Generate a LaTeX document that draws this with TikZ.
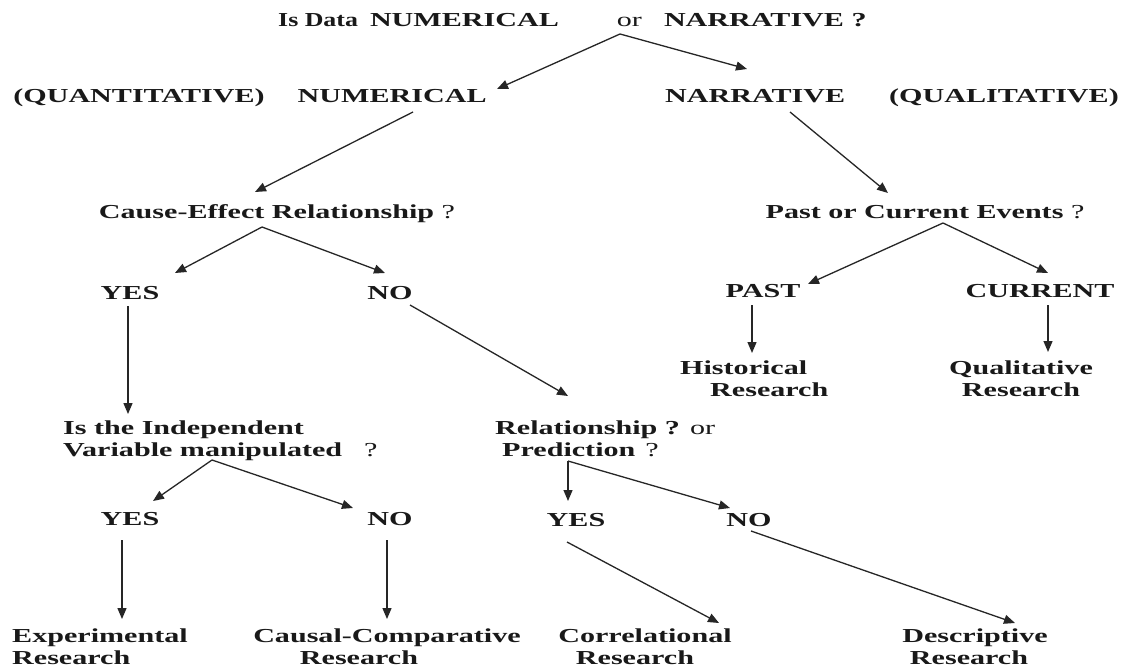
\documentclass[tikz,border=0pt]{standalone}
\usepackage{fontspec}
\setmainfont{Liberation Serif}[FakeStretch=1.52]
\usetikzlibrary{arrows.meta}
\begin{document}
\begin{tikzpicture}[x=1pt,y=-1pt,
  lbl/.style={font=\fontsize{19.8}{21.5}\selectfont\bfseries, text=black!90, inner sep=0pt, text height=13pt, text depth=0pt},
  ml/.style={font=\fontsize{19.8}{21.5}\selectfont\bfseries, text=black!90, inner sep=0pt},
  arr/.style={draw=black!85, line width=1.3pt, -{Triangle[length=11pt,width=9pt]}},
  ln/.style={draw=black!85, line width=1.3pt}]
\useasboundingbox[fill=white] (0,0) rectangle (1121,668);

% nodes
\node[lbl, anchor=west] (title) at (278,20) {\scalebox{0.86}[1]{Is Data}\hspace{12pt}NUMERICAL\hspace{58pt}{\mdseries or}\hspace{22pt}NARRATIVE ?};
\node[lbl] (quant) at (250,96) {(QUANTITATIVE)\hspace{33pt}NUMERICAL};
\node[lbl] (narr) at (892,96) {NARRATIVE\hspace{44pt}(QUALITATIVE)};
\node[lbl] (cause) at (277,212) {Cause-Effect Relationship {\mdseries ?}};
\node[lbl] (pce) at (925,212) {Past or Current Events {\mdseries ?}};
\node[lbl] (yes1) at (130,293) {YES};
\node[lbl] (no1) at (390,293) {NO};
\node[lbl] (past) at (763,291) {PAST};
\node[lbl] (curr) at (1040,291) {CURRENT};
\node[ml, anchor=north west, align=left] (hist) at (680,361) {Historical\\\hspace*{30pt}Research};
\node[ml, anchor=north, align=center] (qual) at (1021,361) {Qualitative\\Research};
\node[ml, anchor=north west, align=left] (indep) at (63,421) {Is the Independent\\Variable manipulated\hspace{22pt}{\mdseries ?}};
\node[ml, anchor=north west, align=left] (rel) at (495,421) {Relationship ? {\mdseries or}\\\hspace*{7pt}Prediction\hspace{10pt}{\mdseries ?}};
\node[lbl] (yes2) at (130,519) {YES};
\node[lbl] (no2) at (390,519) {NO};
\node[lbl] (yes3) at (576,520) {YES};
\node[lbl] (no3) at (749,520) {NO};
\node[ml, anchor=north west, align=left] (exp) at (12,629) {Experimental\\Research};
\node[ml, anchor=north, align=center] (causal) at (387,629) {Causal-Comparative\\Research\hspace*{56pt}};
\node[ml, anchor=north, align=center] (corr) at (645,629) {Correlational\\Research\hspace*{20pt}};
\node[ml, anchor=north, align=center] (desc) at (975,629) {Descriptive\\Research\hspace*{12pt}};

% connector end points
\coordinate (tA) at (620,34);
\coordinate (quantIn) at (497,89);
\coordinate (narrIn) at (747,69);
\coordinate (quantOut) at (413,112);
\coordinate (causeIn) at (255,192);
\coordinate (narrOut) at (790,112);
\coordinate (pceIn) at (888,193);
\coordinate (cA) at (262,227);
\coordinate (yes1In) at (175,273);
\coordinate (no1In) at (385,273);
\coordinate (no1Out) at (410,305);
\coordinate (relIn) at (568,396);
\coordinate (yes1Out) at (128,306);
\coordinate (indepIn) at (128,414);
\coordinate (pA) at (943,223);
\coordinate (pastIn) at (808,284);
\coordinate (currIn) at (1048,273);
\coordinate (pastOut) at (752,305);
\coordinate (histIn) at (752,353);
\coordinate (currOut) at (1048,305);
\coordinate (qualIn) at (1048,352);
\coordinate (iA) at (212,460);
\coordinate (yes2In) at (153,501);
\coordinate (no2In) at (353,508);
\coordinate (yes2Out) at (122,540);
\coordinate (expIn) at (122,619);
\coordinate (no2Out) at (387,540);
\coordinate (causalIn) at (387,619);
\coordinate (rA) at (568,461);
\coordinate (yes3In) at (568,501);
\coordinate (no3In) at (730,508);
\coordinate (yes3Out) at (567,542);
\coordinate (corrIn) at (719,623);
\coordinate (no3Out) at (751,531);
\coordinate (descIn) at (1015,623);

% connectors
\draw[arr] (tA) -- (quantIn);
\draw[arr] (tA) -- (narrIn);
\draw[arr] (quantOut) -- (causeIn);
\draw[arr] (narrOut) -- (pceIn);
\draw[arr] (cA) -- (yes1In);
\draw[arr] (cA) -- (no1In);
\draw[arr] (no1Out) -- (relIn);
\draw[arr] (yes1Out) -- (indepIn);
\draw[arr] (pA) -- (pastIn);
\draw[arr] (pA) -- (currIn);
\draw[arr] (pastOut) -- (histIn);
\draw[arr] (currOut) -- (qualIn);
\draw[arr] (iA) -- (yes2In);
\draw[arr] (iA) -- (no2In);
\draw[arr] (yes2Out) -- (expIn);
\draw[arr] (no2Out) -- (causalIn);
\draw[arr] (rA) -- (yes3In);
\draw[arr] (rA) -- (no3In);
\draw[arr] (yes3Out) -- (corrIn);
\draw[arr] (no3Out) -- (descIn);
\end{tikzpicture}
\end{document}
